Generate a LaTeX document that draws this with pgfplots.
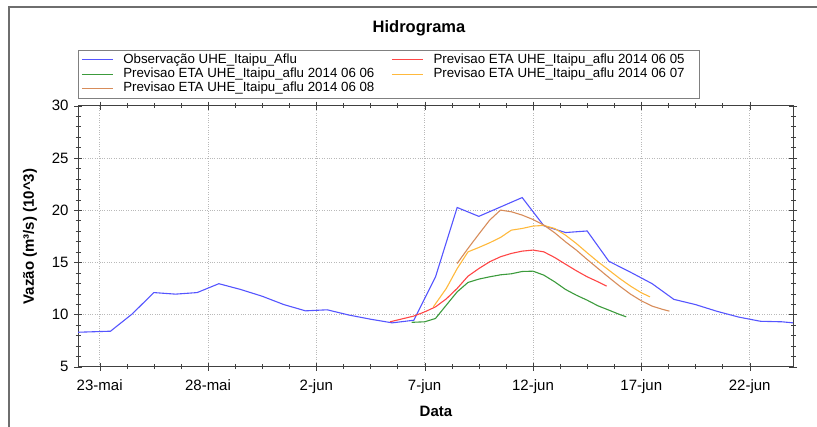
\documentclass[border=0pt]{standalone}
\usepackage{pgfplots}
\pgfplotsset{compat=1.18}
\usepackage{fontspec}
\setmainfont{Liberation Sans}
\definecolor{cblue}{RGB}{85,85,255}
\definecolor{cred}{RGB}{255,70,70}
\definecolor{cgreen}{RGB}{60,155,60}
\definecolor{corange}{RGB}{255,185,60}
\definecolor{cbrown}{RGB}{215,140,90}
\definecolor{cframe}{RGB}{110,110,110}
\begin{document}
\begin{tikzpicture}
\path[use as bounding box] (0,0) rectangle (817bp,427bp);
\begin{axis}[
  at={(78bp,60.3bp)}, anchor=south west,
  scale only axis, width=715bp, height=261bp,
  xmin=0, xmax=33, ymin=5, ymax=30,
  xtick={1,6,11,16,21,26,31},
  xticklabels={23-mai,28-mai,2-jun,7-jun,12-jun,17-jun,22-jun},
  ytick={5,10,15,20,25,30},
  minor x tick num=3, minor y tick num=4,
  tick align=center,
  major tick length=8bp, minor tick length=5bp,
  grid=major, major grid style={dotted, gray!55},
  axis line style={gray!50!black},
  tick style={gray!50!black},
  ticklabel style={font=\fontsize{15bp}{18bp}\selectfont},
  xticklabel style={yshift=-5bp},
  yticklabel style={xshift=-2bp},
  /pgf/number format/assume math mode=true,
  legend columns=2,
  legend cell align=left,
  legend image code/.code={\draw[#1] (0bp,0bp) -- (31bp,0bp);},
  legend style={at={(0,1)}, anchor=south west, yshift=7.7bp,
    draw=gray, font=\fontsize{13.3bp}{14bp}\selectfont,
    inner xsep=3bp, inner ysep=2.4bp, row sep=0pt,
    nodes={inner ysep=0.5bp, text height=10bp, text depth=3.2bp},
    /tikz/every odd column/.append style={column sep=8bp},
    /tikz/every even column/.append style={column sep=15bp}},
]
\addplot[cblue, line width=1.1bp] coordinates {
(0,8.3) (1.5,8.4) (2.5,10.05) (3.5,12.1) (4.5,11.95) (5.5,12.1) (6.5,12.95)
(7.5,12.4) (8.5,11.75) (9.5,10.95) (10.5,10.35) (11.5,10.45) (12.5,9.95)
(13.5,9.55) (14.5,9.2) (15.5,9.45) (16.5,13.6) (17.5,20.25) (18.5,19.4)
(19.5,20.3) (20.5,21.2) (21.5,18.5) (22.5,17.85) (23.5,18.0) (24.5,15.1)
(25.5,14.05) (26.5,12.95) (27.5,11.45) (28.5,10.95) (29.5,10.3) (30.5,9.75)
(31.5,9.35) (32.5,9.3) (33,9.2)};
\addlegendentry{Observação UHE\_Itaipu\_Aflu}
\addplot[cred, line width=1.1bp] coordinates {
(14.4,9.3) (15.5,9.85) (16.0,10.25) (16.5,10.73) (17.0,11.5) (17.5,12.5)
(18.0,13.67) (18.5,14.4) (19.0,15.05) (19.5,15.53) (20.0,15.85) (20.5,16.07)
(21.0,16.17) (21.5,16.0) (22.0,15.46) (22.5,14.82) (23.0,14.19) (23.5,13.61)
(24.0,13.13) (24.4,12.72)};
\addlegendentry{Previsao ETA UHE\_Itaipu\_aflu 2014 06 05\hspace*{10bp}}
\addplot[cgreen, line width=1.1bp] coordinates {
(15.4,9.25) (16.0,9.3) (16.5,9.62) (17.0,10.9) (17.5,12.17) (18.0,13.07)
(18.5,13.39) (19.0,13.61) (19.5,13.8) (20.0,13.9) (20.5,14.12) (21.0,14.15)
(21.5,13.77) (22.0,13.13) (22.5,12.4) (23.0,11.85) (23.5,11.37) (24.0,10.83)
(24.5,10.42) (25.0,10.0) (25.3,9.78)};
\addlegendentry{Previsao ETA UHE\_Itaipu\_aflu 2014 06 06}
\addplot[corange, line width=1.1bp] coordinates {
(16.4,10.73) (17.0,12.5) (17.5,14.4) (18.0,16.0) (18.5,16.42) (19.0,16.87)
(19.5,17.38) (20.0,18.08) (20.5,18.24) (21.0,18.47) (21.5,18.53) (22.0,18.24)
(22.5,17.6) (23.0,16.8) (23.5,15.91) (24.0,15.05) (24.5,14.25) (25.0,13.45)
(25.5,12.72) (26.0,12.08) (26.4,11.69)};
\addlegendentry{Previsao ETA UHE\_Itaipu\_aflu 2014 06 07}
\addplot[cbrown, line width=1.1bp] coordinates {
(17.5,14.89) (18.0,16.33) (18.5,17.7) (19.0,19.04) (19.5,20.0) (20.0,19.84)
(20.5,19.52) (21.0,19.1) (21.5,18.56) (22.0,17.83) (22.5,16.96) (23.0,16.17)
(23.5,15.27) (24.0,14.41) (24.5,13.55) (25.0,12.72) (25.5,11.95) (26.0,11.31)
(26.5,10.8) (27.0,10.48) (27.3,10.32)};
\addlegendentry{Previsao ETA UHE\_Itaipu\_aflu 2014 06 08}
\end{axis}
\draw[cframe, line width=1.2bp] (9bp,0bp) -- (9bp,420bp) -- (817bp,420bp);
\node[anchor=base, font=\fontsize{16.5bp}{20bp}\selectfont\bfseries] at (419bp,394.3bp) {Hidrograma};
\node[rotate=90, font=\fontsize{15bp}{18bp}\selectfont\bfseries] at (30bp,190.5bp) {Vazão (m³/s) (10\textasciicircum 3)};
\node[font=\fontsize{15bp}{18bp}\selectfont\bfseries] at (436bp,16bp) {Data};
\end{tikzpicture}
\end{document}
